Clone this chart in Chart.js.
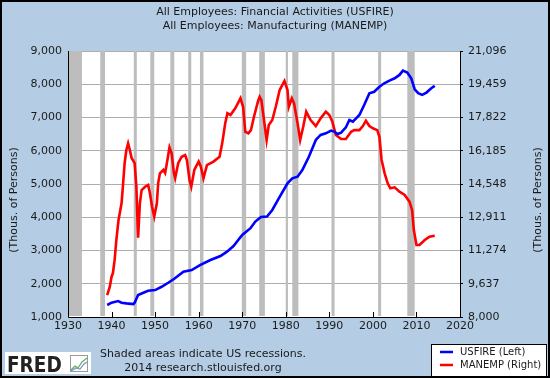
<!DOCTYPE html>
<html>
<head>
<meta charset="utf-8">
<script src="https://cdn.jsdelivr.net/npm/chart.js@4/dist/chart.umd.min.js"></script>
<style>
html,body{margin:0;padding:0;background:#b4cde4;}
canvas{display:block;}
</style>
</head>
<body>
<canvas id="c" width="550" height="378"></canvas>
<script>
// ---- Data ----
const titleLines = ["All Employees: Financial Activities (USFIRE)", "All Employees: Manufacturing (MANEMP)"];
const axisTitle = "(Thous. of Persons)";
const footerLines = ["Shaded areas indicate US recessions.", "2014 research.stlouisfed.org"];

const xTicks = [1930, 1940, 1950, 1960, 1970, 1980, 1990, 2000, 2010, 2020];
const leftTicks = [1000, 2000, 3000, 4000, 5000, 6000, 7000, 8000, 9000];
const rightTicks = [8000, 9637, 11274, 12911, 14548, 16185, 17822, 19459, 21096];

const usfireYears = [1939.0,1940.0,1941.5,1942.3,1943.4,1945.0,1945.3,1946.1,1947.3,1948.4,1950.0,1951.5,1953.0,1954.4,1956.5,1958.4,1960.3,1962.7,1965.0,1966.5,1968.0,1970.0,1971.9,1973.0,1974.3,1975.7,1976.9,1978.4,1980.4,1981.5,1982.7,1983.8,1985.3,1986.9,1988.0,1989.2,1990.4,1991.1,1991.9,1992.7,1993.8,1994.6,1995.4,1996.9,1998.0,1999.2,2000.3,2001.5,2002.6,2003.8,2005.0,2006.1,2006.9,2007.9,2008.8,2009.6,2010.4,2011.3,2012.3,2013.4,2014.2];
const usfireValues = [1361,1430,1480,1430,1410,1390,1430,1660,1730,1790,1810,1910,2030,2150,2360,2410,2560,2715,2835,2965,3135,3465,3670,3870,4010,4020,4220,4570,5020,5170,5220,5420,5820,6325,6475,6525,6605,6575,6505,6545,6705,6925,6875,7075,7375,7730,7775,7925,8030,8110,8180,8280,8410,8350,8180,7850,7730,7680,7750,7880,7950];

const manempYears = [1939.0,1939.6,1940.0,1940.3,1940.7,1941.1,1941.6,1942.3,1942.6,1943.0,1943.4,1943.8,1944.2,1944.6,1945.3,1945.7,1946.0,1946.1,1946.5,1946.9,1947.7,1948.4,1948.8,1949.3,1949.8,1950.4,1950.7,1951.1,1951.9,1952.3,1952.7,1953.3,1953.8,1954.3,1954.6,1955.3,1956.1,1956.9,1957.3,1957.9,1958.3,1959.0,1960.0,1960.5,1961.1,1961.9,1963.4,1964.8,1965.4,1966.1,1966.6,1967.3,1968.4,1969.2,1969.6,1970.2,1970.7,1971.4,1972.0,1972.7,1973.6,1974.0,1974.4,1975.0,1975.6,1976.1,1976.9,1977.7,1978.6,1979.7,1980.4,1980.7,1981.4,1981.9,1982.7,1983.3,1984.0,1984.7,1985.7,1986.9,1988.0,1989.2,1990.0,1990.7,1991.5,1992.7,1993.8,1995.0,1995.7,1996.9,1997.7,1998.4,1999.2,2000.0,2001.0,2001.5,2002.0,2002.7,2003.4,2004.0,2005.0,2006.1,2007.3,2008.4,2009.0,2009.4,2010.0,2010.7,2011.9,2013.0,2014.2];
const manempValues = [9080,9490,9985,10150,10800,11790,12775,13610,14415,15570,16220,16550,16220,15830,15580,14415,12450,11900,13600,14250,14415,14500,14100,13430,12940,13600,14580,15075,15240,15090,15570,16350,16060,15100,14830,15570,15890,15975,15730,14745,14415,15240,15650,15400,14830,15480,15650,15890,16550,17535,18030,17945,18275,18600,18770,18350,17120,17040,17200,17860,18600,18845,18680,17700,16710,17450,17700,18350,19175,19620,19175,18350,18770,18520,17535,16710,17370,18110,17700,17400,17780,18110,17945,17615,16960,16765,16765,17120,17200,17200,17400,17665,17400,17290,17200,16875,15730,15075,14580,14335,14385,14170,14010,13680,13270,12280,11545,11545,11790,11955,12000];

const recessionStarts = [1929.6,1937.4,1945.1,1948.9,1953.5,1957.6,1960.3,1969.9,1973.9,1980.0,1981.5,1990.5,2001.2,2007.9];
const recessionEnds   = [1933.2,1938.5,1945.8,1949.8,1954.4,1958.3,1961.1,1970.9,1975.2,1980.5,1982.9,1991.2,2001.9,2009.6];

const FONT = "'DejaVu Sans', Verdana, sans-serif";
const TXT = '#1a1a1a';

const pageDecor = {
  id: 'pageDecor',
  beforeDraw(chart) {
    const ctx = chart.ctx, a = chart.chartArea;
    ctx.save();
    ctx.fillStyle = '#b4cde4';
    ctx.fillRect(0, 0, chart.width, chart.height);
    ctx.fillStyle = '#ffffff';
    ctx.fillRect(a.left, a.top, a.right - a.left, a.bottom - a.top);
    ctx.restore();
  },
  beforeDatasetsDraw(chart) {
    const ctx = chart.ctx, a = chart.chartArea, xs = chart.scales.x;
    ctx.save();
    ctx.fillStyle = '#bdbdbd';
    for (let i = 0; i < recessionStarts.length; i++) {
      const x0 = Math.max(xs.getPixelForValue(recessionStarts[i]), a.left);
      const x1 = Math.min(xs.getPixelForValue(recessionEnds[i]), a.right);
      ctx.fillRect(x0, a.top, x1 - x0, a.bottom - a.top - 1);
    }
    ctx.restore();
  },
  afterDatasetsDraw(chart) {
    const ctx = chart.ctx, a = chart.chartArea, xs = chart.scales.x;
    ctx.save();
    ctx.strokeStyle = '#000';
    ctx.lineWidth = 1;
    // inner x tick marks
    ctx.beginPath();
    xTicks.forEach(v => {
      const px = Math.round(xs.getPixelForValue(v)) + 0.5;
      ctx.moveTo(px, a.bottom); ctx.lineTo(px, a.bottom - 5);
    });
    // axis lines (left, bottom, right)
    ctx.moveTo(a.left + 0.5, a.top); ctx.lineTo(a.left + 0.5, a.bottom + 0.5);
    ctx.lineTo(a.right + 0.5, a.bottom + 0.5); ctx.lineTo(a.right + 0.5, a.top);
    ctx.stroke();
    ctx.restore();
  },
  afterDraw(chart) {
    const ctx = chart.ctx, W = chart.width, H = chart.height;
    ctx.save();
    ctx.fillStyle = TXT;
    ctx.font = '11px ' + FONT;
    ctx.textAlign = 'center';
    ctx.textBaseline = 'middle';
    ctx.fillText(titleLines[0], 275, 12);
    ctx.fillText(titleLines[1], 275, 26);
    // axis titles
    ctx.save(); ctx.translate(14, 200); ctx.rotate(-Math.PI / 2);
    ctx.fillText(axisTitle, 0, 0); ctx.restore();
    ctx.save(); ctx.translate(538, 200); ctx.rotate(-Math.PI / 2);
    ctx.fillText(axisTitle, 0, 0); ctx.restore();
    // footer
    ctx.fillText(footerLines[0], 203, 354);
    ctx.fillText(footerLines[1], 203, 368);
    // legend
    ctx.fillStyle = '#fff';
    ctx.fillRect(431, 344, 115, 33);
    ctx.strokeStyle = '#000'; ctx.lineWidth = 1;
    ctx.strokeRect(431.5, 344.5, 115, 33);
    ctx.textAlign = 'left';
    ctx.font = '10px ' + FONT;
    chart.data.datasets.forEach((ds, i) => {
      const y = 352 + i * 13;
      ctx.strokeStyle = ds.borderColor; ctx.lineWidth = 2.5;
      ctx.beginPath(); ctx.moveTo(440, y); ctx.lineTo(453, y); ctx.stroke();
      ctx.fillStyle = TXT;
      ctx.fillText(ds.label, 460, y + 0.5);
    });
    // FRED logo
    ctx.fillStyle = '#fff';
    ctx.fillRect(5, 352, 86, 22);
    ctx.fillStyle = '#222';
    ctx.font = 'bold 21px ' + FONT;
    ctx.textBaseline = 'alphabetic';
    ctx.save(); ctx.translate(7, 372); ctx.scale(0.88, 1);
    ctx.fillText('FRED', 0, 0); ctx.restore();
    ctx.strokeStyle = '#9a9a9a'; ctx.lineWidth = 1;
    ctx.strokeRect(70.5, 355.5, 17, 16);
    ctx.strokeStyle = '#5fae5f'; ctx.lineWidth = 1.2;
    ctx.beginPath(); ctx.moveTo(71, 370); ctx.lineTo(75, 366); ctx.lineTo(78, 368); ctx.lineTo(82, 362); ctx.lineTo(87, 358); ctx.stroke();
    ctx.strokeStyle = '#6f95c9';
    ctx.beginPath(); ctx.moveTo(71, 371); ctx.lineTo(76, 368); ctx.lineTo(80, 369); ctx.lineTo(84, 364); ctx.lineTo(87, 362); ctx.stroke();
    // outer border
    ctx.strokeStyle = '#000'; ctx.lineWidth = 2;
    ctx.strokeRect(1, 1, W - 2, H - 2);
    ctx.restore();
  }
};

const toPoints = (xs, ys) => xs.map((x, i) => ({ x: x, y: ys[i] }));

new Chart(document.getElementById('c'), {
  type: 'line',
  data: {
    datasets: [
      { label: 'USFIRE (Left)', data: toPoints(usfireYears, usfireValues), yAxisID: 'y',
        borderColor: '#0000ff', borderWidth: 2.6, pointRadius: 0, tension: 0, fill: false },
      { label: 'MANEMP (Right)', data: toPoints(manempYears, manempValues), yAxisID: 'y2',
        borderColor: '#ff0000', borderWidth: 2.6, pointRadius: 0, tension: 0, fill: false }
    ]
  },
  options: {
    responsive: false,
    devicePixelRatio: 1,
    animation: false,
    events: [],
    layout: { padding: { top: 51, bottom: 41, left: 0, right: 0 } },
    plugins: { legend: { display: false }, title: { display: false }, tooltip: { enabled: false } },
    scales: {
      x: {
        type: 'linear', position: 'bottom', min: 1930, max: 2020,
        afterBuildTicks: s => { s.ticks = xTicks.map(v => ({ value: v })); },
        afterFit: s => { s.height = 20; },
        ticks: { callback: v => String(v), color: TXT, font: { family: FONT, size: 11 }, padding: 3, maxRotation: 0, autoSkip: false },
        grid: { display: false, drawTicks: false },
        border: { display: false }
      },
      y: {
        type: 'linear', position: 'left', min: 1000, max: 9000,
        afterBuildTicks: s => { s.ticks = leftTicks.map(v => ({ value: v })); },
        afterFit: s => { s.width = 68; },
        ticks: { callback: v => v.toLocaleString('en-US'), color: TXT, font: { family: FONT, size: 11 }, padding: 6 },
        grid: { color: '#adadad', lineWidth: 1, drawTicks: false },
        border: { display: false }
      },
      y2: {
        type: 'linear', position: 'right', min: 8000, max: 21096,
        afterBuildTicks: s => { s.ticks = rightTicks.map(v => ({ value: v })); },
        afterFit: s => { s.width = 90; },
        ticks: { callback: v => v.toLocaleString('en-US'), color: TXT, font: { family: FONT, size: 11 }, padding: 5 },
        grid: { drawOnChartArea: false, drawTicks: true, tickLength: 3, color: '#000' },
        border: { display: false }
      }
    }
  },
  plugins: [pageDecor]
});
</script>
</body>
</html>
